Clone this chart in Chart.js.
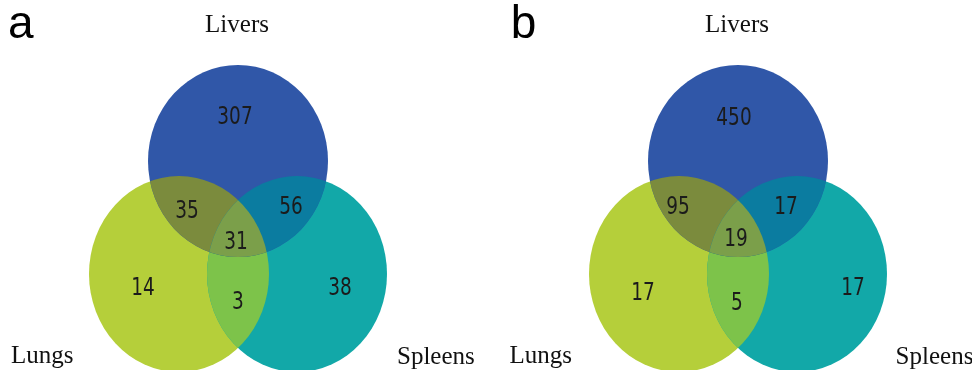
<!DOCTYPE html>
<html>
<head>
<meta charset="utf-8">
<script src="https://cdn.jsdelivr.net/npm/chart.js@4.4.0/dist/chart.umd.min.js"></script>
<style>
  body { margin: 0; background: #fff; }
  #wrap { display: flex; width: 972px; height: 370px; }
  canvas { display: block; }
</style>
</head>
<body>
<div id="wrap">
  <canvas id="vennA" width="486" height="370"></canvas>
  <canvas id="vennB" width="486" height="370"></canvas>
</div>
<script>
// sets and region counts
const setNames = ['Livers', 'Lungs', 'Spleens'];
const panelLetters = ['a', 'b'];
// region order: Livers only, Livers+Lungs, Livers+Spleens, all three, Lungs only, Lungs+Spleens, Spleens only
const countsA = [307, 35, 56, 31, 14, 3, 38];
const countsB = [450, 95, 17, 19, 17, 5, 17];

// circle geometry in scale units (x 0..486, y 0..370 top-down)
const circlesA = [[238, 161, 90, 96], [179, 274, 90, 98], [297, 274, 90, 98]];
const circlesB = [[252, 161, 90, 96], [193, 274, 90, 98], [311, 274, 90, 98]];

// where the counts sit
const spotsA = [[235, 116], [187, 210], [291, 206], [236, 241], [143, 287], [238, 301], [340, 287]];
const spotsB = [[248, 117], [192, 206], [300, 206], [250, 238], [157, 292], [251, 302], [367, 287]];

const setColors = ['#3057a8', '#b5cf3a', '#12a8a8'];
const pairColors = { livLung: '#7b8b3d', livSpl: '#0b7ca0', lungSpl: '#7dc34a', all: '#7b9f4a' };

const vennPlugin = {
  id: 'venn',
  beforeDatasetsDraw(chart, args, opts) {
    const { ctx, scales: { x, y } } = chart;
    const path = (c) => {
      const cx = x.getPixelForValue(c[0]), cy = y.getPixelForValue(c[1]);
      const rx = x.getPixelForValue(c[0] + c[2]) - cx;
      const ry = y.getPixelForValue(c[1] + c[3]) - cy;
      ctx.beginPath();
      ctx.ellipse(cx, cy, Math.abs(rx), Math.abs(ry), 0, 0, Math.PI * 2);
    };
    const [liv, lung, spl] = opts.circles;
    ctx.save();
    [lung, spl, liv].forEach((c, i) => {
      path(c);
      ctx.fillStyle = setColors[[1, 2, 0][i]];
      ctx.fill();
    });
    const inter = (clips, fillC, color) => {
      ctx.save();
      clips.forEach(c => { path(c); ctx.clip(); });
      path(fillC);
      ctx.fillStyle = color;
      ctx.fill();
      ctx.restore();
    };
    inter([lung], spl, pairColors.lungSpl);
    inter([liv], lung, pairColors.livLung);
    inter([liv], spl, pairColors.livSpl);
    inter([liv, lung], spl, pairColors.all);
    ctx.restore();
  },
  afterDatasetsDraw(chart, args, opts) {
    const { ctx, scales: { x, y } } = chart;
    const meta = chart.getDatasetMeta(0);
    const vals = chart.data.datasets[0].data;
    ctx.save();
    ctx.fillStyle = '#1b1b1b';
    ctx.textAlign = 'center';
    ctx.textBaseline = 'middle';
    ctx.font = '25px "DejaVu Sans"';
    meta.data.forEach((pt, i) => {
      ctx.save();
      ctx.translate(pt.x, pt.y);
      ctx.scale(0.74, 1);
      ctx.fillText(String(vals[i].v), 0, 1);
      ctx.restore();
    });
    // set labels
    ctx.font = '25px "Liberation Serif"';
    ctx.textBaseline = 'alphabetic';
    ctx.fillStyle = '#111';
    const o = opts.offset;
    ctx.textAlign = 'center';
    ctx.fillText(setNames[0], x.getPixelForValue(237 + o), y.getPixelForValue(32));
    ctx.textAlign = 'left';
    ctx.fillText(setNames[1], x.getPixelForValue(11 + o * 0.9), y.getPixelForValue(363));
    ctx.fillText(setNames[2], x.getPixelForValue(397 + o * 0.9), y.getPixelForValue(364));
    // panel letter
    ctx.font = '46px "Liberation Sans"';
    ctx.fillStyle = '#000';
    ctx.fillText(opts.letter, x.getPixelForValue(8 + o * 1.2), y.getPixelForValue(38));
    ctx.restore();
  }
};

function makeVenn(id, counts, circles, spots, letter, offset) {
  new Chart(document.getElementById(id), {
    type: 'scatter',
    data: {
      datasets: [{
        data: counts.map((v, i) => ({ x: spots[i][0], y: spots[i][1], v: v })),
        pointRadius: 0,
        pointHoverRadius: 0
      }]
    },
    options: {
      responsive: false,
      animation: false,
      events: [],
      layout: { padding: 0 },
      scales: {
        x: { type: 'linear', min: 0, max: 486, display: false },
        y: { type: 'linear', min: 0, max: 370, reverse: true, display: false }
      },
      plugins: {
        legend: { display: false },
        tooltip: { enabled: false },
        venn: { circles: circles, letter: letter, offset: offset }
      }
    },
    plugins: [vennPlugin]
  });
}

makeVenn('vennA', countsA, circlesA, spotsA, panelLetters[0], 0);
makeVenn('vennB', countsB, circlesB, spotsB, panelLetters[1], 14);
</script>
</body>
</html>
